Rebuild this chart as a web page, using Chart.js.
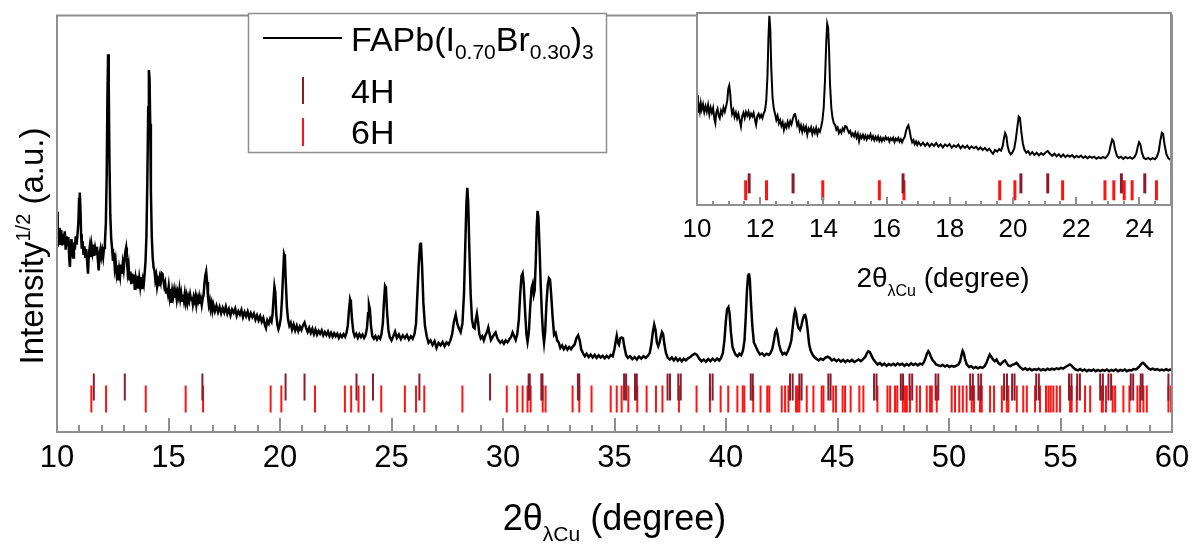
<!DOCTYPE html>
<html>
<head>
<meta charset="utf-8">
<script src="https://cdn.jsdelivr.net/npm/chart.js@4.4.0/dist/chart.umd.min.js"></script>
<style>
  html, body { margin: 0; padding: 0; background: #fff; }
  #wrap { position: relative; width: 1195px; height: 544px; }
  #main { position: absolute; left: 0; top: 0; }
  #inset { position: absolute; left: 680px; top: 0; }
</style>
</head>
<body>
<div id="wrap">
  <canvas id="main" width="1195" height="544"></canvas>
  <canvas id="inset" width="515" height="300"></canvas>
</div>
<script>
var pattern = [
  [10.00,52.9],[10.03,44.5],[10.06,48.0],[10.09,45.2],[10.12,49.0],[10.15,46.0],[10.19,48.5],[10.23,44.8],[10.27,47.6],[10.31,45.0],
  [10.35,48.2],[10.39,43.8],[10.43,47.0],[10.47,44.6],[10.51,46.8],[10.55,41.5],[10.58,39.6],[10.61,44.5],[10.65,46.3],[10.69,43.0],
  [10.72,41.9],[10.76,45.5],[10.80,43.8],[10.84,47.0],[10.88,45.0],[10.92,47.5],[10.96,50.5],[10.99,56.0],[11.02,57.5],[11.05,54.0],
  [11.08,47.5],[11.11,44.0],[11.15,45.8],[11.19,42.5],[11.23,44.6],[11.27,41.8],[11.31,43.9],[11.35,41.0],[11.39,38.0],[11.43,42.8],
  [11.47,44.5],[11.51,42.0],[11.55,44.8],[11.59,43.2],[11.63,45.0],[11.67,42.3],[11.71,44.1],[11.75,42.8],[11.79,44.5],[11.83,41.5],
  [11.87,38.8],[11.91,42.9],[11.95,44.0],[11.99,42.2],[12.03,43.5],[12.07,42.0],[12.11,44.2],[12.15,45.5],[12.19,50.0],[12.23,62.0],
  [12.26,80.0],[12.29,90.7],[12.32,84.0],[12.35,66.0],[12.39,52.0],[12.43,46.5],[12.47,44.0],[12.51,41.1],[12.55,43.0],[12.59,39.5],
  [12.63,41.0],[12.67,38.3],[12.71,40.0],[12.75,36.4],[12.79,39.0],[12.83,37.5],[12.87,40.2],[12.91,38.0],[12.95,40.5],[12.99,39.0],
  [13.03,41.5],[13.07,43.5],[13.10,44.3],[13.13,42.0],[13.17,38.5],[13.21,40.0],[13.25,36.4],[13.29,38.5],[13.33,35.5],[13.37,38.0],
  [13.41,36.0],[13.45,37.8],[13.49,34.1],[13.53,37.0],[13.57,35.8],[13.61,37.5],[13.65,34.4],[13.69,36.8],[13.73,35.0],[13.77,37.2],
  [13.81,34.3],[13.85,36.5],[13.89,35.5],[13.93,38.0],[13.97,41.0],[14.01,47.0],[14.05,60.0],[14.09,78.0],[14.12,86.9],[14.15,85.0],
  [14.18,74.0],[14.21,58.0],[14.25,47.0],[14.29,42.0],[14.33,39.5],[14.37,38.8],[14.41,36.5],[14.45,37.5],[14.49,34.9],[14.53,36.2],
  [14.57,35.0],[14.61,37.0],[14.65,36.0],[14.69,38.2],[14.73,38.0],[14.77,36.3],[14.81,35.0],[14.85,35.8],[14.89,33.5],[14.93,34.6],
  [14.97,33.3],[15.01,35.0],[15.05,32.6],[15.09,34.4],[15.13,31.0],[15.17,33.8],[15.21,32.5],[15.25,34.0],[15.29,32.2],[15.33,33.6],
  [15.37,31.8],[15.41,33.5],[15.45,32.5],[15.49,34.2],[15.53,32.0],[15.57,33.3],[15.61,31.5],[15.65,33.0],[15.69,31.6],[15.73,33.2],
  [15.77,31.2],[15.81,32.6],[15.85,31.0],[15.89,32.4],[15.93,31.5],[15.97,33.0],[16.01,31.8],[16.05,32.5],[16.09,30.8],[16.13,32.4],
  [16.17,31.5],[16.21,32.6],[16.25,30.6],[16.29,32.2],[16.33,31.4],[16.37,32.5],[16.41,30.8],[16.45,31.9],[16.49,30.5],[16.53,32.0],
  [16.57,32.8],[16.61,35.5],[16.65,37.5],[16.69,38.5],[16.73,36.0],[16.77,32.5],[16.81,30.5],[16.85,31.5],[16.89,29.6],[16.93,30.8],
  [16.97,29.2],[17.01,30.6],[17.08,29.0],[17.15,30.3],[17.22,28.8],[17.29,30.0],[17.36,28.5],[17.43,29.8],[17.50,28.7],[17.57,30.1],
  [17.64,28.4],[17.71,29.5],[17.78,28.0],[17.85,29.4],[17.92,28.6],[17.99,29.6],[18.06,27.9],[18.13,29.0],[18.20,28.2],[18.27,29.3],
  [18.34,27.6],[18.41,28.8],[18.48,27.8],[18.55,28.9],[18.62,27.4],[18.69,28.5],[18.76,27.6],[18.83,28.4],[18.90,27.0],[18.97,28.0],
  [19.04,26.8],[19.11,27.8],[19.18,26.5],[19.25,27.4],[19.32,25.8],[19.37,25.0],[19.43,26.8],[19.50,26.0],[19.56,27.2],[19.62,26.5],
  [19.67,28.5],[19.71,32.0],[19.75,34.9],[19.79,33.5],[19.83,28.5],[19.88,25.8],[19.93,24.7],[19.98,25.6],[20.04,27.5],[20.09,32.0],
  [20.14,38.0],[20.18,42.7],[20.22,42.0],[20.26,36.0],[20.31,30.0],[20.36,27.0],[20.42,25.5],[20.48,26.2],[20.54,24.6],[20.61,25.8],
  [20.68,24.4],[20.75,25.5],[20.82,24.2],[20.89,25.3],[20.96,24.5],[21.03,25.6],[21.10,26.3],[21.17,25.0],[21.24,24.0],[21.31,25.0],
  [21.38,23.8],[21.45,24.8],[21.52,23.5],[21.59,24.6],[21.66,23.4],[21.73,24.3],[21.80,23.6],[21.87,24.4],[21.94,23.2],[22.01,24.0],
  [22.08,23.3],[22.15,24.1],[22.22,23.0],[22.29,23.8],[22.36,22.9],[22.43,23.7],[22.50,23.0],[22.57,23.6],[22.64,22.6],[22.71,23.4],
  [22.78,22.8],[22.85,23.5],[22.92,22.9],[22.98,23.8],[23.04,25.5],[23.09,29.0],[23.14,31.8],[23.18,31.0],[23.23,27.0],[23.29,24.0],
  [23.35,23.0],[23.42,23.6],[23.49,22.6],[23.56,23.5],[23.63,22.8],[23.70,23.4],[23.77,22.6],[23.84,23.3],[23.90,25.0],[23.95,28.5],
  [23.99,30.5],[24.03,29.5],[24.08,25.5],[24.14,23.0],[24.21,22.4],[24.28,23.0],[24.35,22.2],[24.42,22.9],[24.49,22.4],[24.55,23.5],
  [24.61,26.0],[24.66,31.0],[24.71,35.0],[24.75,34.5],[24.80,29.0],[24.86,24.5],[24.92,22.8],[25.00,22.0],[25.08,23.0],[25.16,24.1],
  [25.24,22.6],[25.33,23.4],[25.42,22.3],[25.51,23.2],[25.60,22.5],[25.69,23.3],[25.78,22.2],[25.87,23.0],[25.95,22.4],[26.03,23.5],
  [26.10,26.0],[26.16,33.0],[26.22,40.0],[26.28,45.0],[26.32,45.5],[26.37,40.0],[26.43,31.0],[26.50,25.5],[26.58,23.0],[26.66,21.4],
  [26.75,22.0],[26.84,20.9],[26.93,21.8],[27.02,20.2],[27.11,21.4],[27.20,20.8],[27.29,21.6],[27.38,20.6],[27.47,21.5],[27.56,21.0],
  [27.64,22.0],[27.72,23.5],[27.80,26.5],[27.88,28.2],[27.95,26.0],[28.02,24.9],[28.10,24.0],[28.18,26.0],[28.25,33.0],[28.31,45.0],
  [28.36,55.0],[28.40,58.6],[28.44,55.0],[28.49,44.0],[28.55,33.0],[28.61,27.0],[28.67,25.2],[28.73,24.9],[28.78,27.0],[28.83,28.4],
  [28.88,26.5],[28.94,23.5],[29.00,22.5],[29.07,23.0],[29.14,22.0],[29.21,23.2],[29.28,24.0],[29.34,25.1],[29.40,23.5],[29.46,22.1],
  [29.53,22.8],[29.60,23.4],[29.67,23.9],[29.74,22.6],[29.81,21.9],[29.88,21.4],[29.96,21.9],[30.04,21.2],[30.12,22.0],[30.20,21.5],
  [30.28,22.2],[30.36,22.8],[30.43,23.9],[30.50,23.0],[30.57,22.1],[30.64,23.5],[30.71,27.0],[30.77,33.0],[30.83,37.5],[30.88,38.1],
  [30.93,35.5],[30.99,29.0],[31.05,23.5],[31.10,21.7],[31.16,24.0],[31.22,30.0],[31.28,34.5],[31.33,35.5],[31.38,33.0],[31.42,34.0],
  [31.47,41.0],[31.51,49.0],[31.55,53.1],[31.59,51.5],[31.64,44.0],[31.69,35.5],[31.74,28.8],[31.79,24.0],[31.84,21.4],[31.89,24.0],
  [31.95,31.0],[32.01,35.5],[32.06,36.9],[32.11,36.5],[32.16,33.0],[32.22,28.0],[32.29,23.3],[32.36,23.8],[32.43,22.0],[32.50,21.5],
  [32.57,20.2],[32.65,20.8],[32.73,19.9],[32.81,20.6],[32.89,19.8],[32.97,20.4],[33.05,19.9],[33.13,20.5],[33.21,21.0],[33.29,22.5],
  [33.37,23.2],[33.44,22.0],[33.51,19.8],[33.59,18.9],[33.67,18.2],[33.75,18.8],[33.84,18.0],[33.93,18.6],[34.02,17.9],[34.11,18.5],
  [34.20,17.8],[34.29,18.4],[34.38,17.9],[34.47,18.3],[34.56,17.7],[34.65,18.3],[34.74,17.8],[34.83,18.5],[34.92,18.2],[35.00,20.0],
  [35.06,22.0],[35.10,23.1],[35.15,21.5],[35.20,21.0],[35.26,22.5],[35.32,22.7],[35.38,22.5],[35.44,20.5],[35.52,18.5],[35.60,17.8],
  [35.70,18.2],[35.80,17.5],[35.90,18.0],[36.00,17.4],[36.10,18.1],[36.20,17.6],[36.30,18.2],[36.40,17.8],[36.50,18.3],[36.58,19.0],
  [36.65,21.0],[36.72,24.0],[36.78,25.8],[36.84,24.5],[36.90,21.5],[36.96,20.6],[37.02,21.5],[37.08,23.0],[37.13,24.0],[37.18,23.5],
  [37.24,21.0],[37.31,18.9],[37.39,17.8],[37.48,17.4],[37.57,17.9],[37.66,17.2],[37.75,17.8],[37.84,17.1],[37.93,17.6],[38.02,17.0],
  [38.11,17.6],[38.20,17.2],[38.30,17.7],[38.40,18.0],[38.50,18.5],[38.60,18.8],[38.70,18.5],[38.80,17.6],[38.90,17.0],[39.00,17.4],
  [39.10,16.9],[39.20,17.5],[39.30,17.0],[39.40,17.6],[39.50,17.1],[39.60,17.6],[39.70,17.2],[39.78,17.8],[39.86,19.0],[39.93,22.0],
  [39.99,26.5],[40.05,29.5],[40.11,30.0],[40.16,28.5],[40.22,24.0],[40.29,20.5],[40.36,19.4],[40.44,18.5],[40.52,18.2],[40.60,18.8],
  [40.68,18.4],[40.76,19.5],[40.83,22.0],[40.89,28.0],[40.94,34.0],[40.99,37.5],[41.03,38.1],[41.07,36.5],[41.12,31.0],[41.18,25.5],
  [41.25,21.5],[41.33,20.6],[41.42,19.5],[41.52,18.6],[41.62,18.9],[41.72,18.3],[41.82,18.8],[41.92,18.5],[42.00,19.0],[42.08,20.0],
  [42.15,22.0],[42.21,24.0],[42.26,24.5],[42.31,23.5],[42.38,21.0],[42.46,19.5],[42.54,18.6],[42.62,19.0],[42.70,18.6],[42.78,19.5],
  [42.86,20.6],[42.93,22.0],[42.99,25.0],[43.05,28.0],[43.10,29.2],[43.14,28.5],[43.20,26.0],[43.26,24.9],[43.32,24.5],[43.38,25.5],
  [43.44,27.0],[43.50,28.0],[43.55,28.1],[43.60,27.0],[43.66,24.5],[43.73,21.0],[43.80,19.5],[43.88,18.6],[43.96,18.0],[44.05,17.6],
  [44.15,17.2],[44.25,17.6],[44.35,17.3],[44.45,17.8],[44.55,18.1],[44.65,17.8],[44.75,17.2],[44.85,17.5],[44.95,17.0],[45.05,17.4],
  [45.15,16.9],[45.25,17.3],[45.35,16.8],[45.45,17.2],[45.55,16.9],[45.65,17.3],[45.75,16.8],[45.85,17.1],[45.95,17.4],[46.05,17.0],
  [46.15,17.5],[46.24,18.0],[46.31,18.8],[46.38,19.4],[46.45,19.2],[46.52,18.4],[46.60,17.5],[46.70,16.8],[46.80,16.2],[46.90,16.6],
  [47.00,16.0],[47.10,16.4],[47.20,15.9],[47.30,16.3],[47.40,16.0],[47.50,16.4],[47.60,16.0],[47.70,16.5],[47.80,16.1],[47.90,16.4],
  [48.00,15.9],[48.10,16.3],[48.20,16.0],[48.30,16.5],[48.40,16.1],[48.50,16.4],[48.60,16.0],[48.70,16.4],[48.80,16.2],[48.88,16.8],
  [48.95,17.8],[49.01,18.8],[49.07,19.4],[49.12,19.0],[49.18,18.2],[49.26,17.3],[49.34,16.8],[49.42,16.2],[49.52,16.0],[49.62,15.8],
  [49.72,16.1],[49.82,15.7],[49.92,16.0],[50.02,15.6],[50.12,15.9],[50.22,15.7],[50.32,15.9],[50.42,16.2],[50.50,17.0],[50.56,18.5],
  [50.61,19.5],[50.66,19.0],[50.72,17.5],[50.80,16.2],[50.90,15.6],[51.00,15.8],[51.10,15.3],[51.20,15.6],[51.30,15.3],[51.40,15.6],
  [51.50,15.4],[51.60,15.8],[51.68,16.6],[51.76,17.8],[51.83,18.6],[51.90,18.0],[51.97,17.4],[52.05,17.0],[52.13,17.4],[52.21,16.6],
  [52.30,16.2],[52.38,16.6],[52.45,17.0],[52.51,17.2],[52.58,16.6],[52.66,16.0],[52.75,15.8],[52.84,16.1],[52.93,16.3],[53.03,16.6],
  [53.12,16.0],[53.22,15.4],[53.32,15.0],[53.42,15.3],[53.52,14.9],[53.62,15.2],[53.72,14.8],[53.82,15.1],[53.92,14.9],[54.02,15.2],
  [54.12,14.8],[54.22,15.1],[54.32,14.8],[54.42,15.2],[54.52,14.9],[54.62,15.2],[54.72,15.0],[54.82,15.3],[54.92,15.1],[55.02,15.4],
  [55.12,15.2],[55.22,15.6],[55.32,15.9],[55.42,16.2],[55.50,15.9],[55.58,15.4],[55.68,15.0],[55.78,14.8],[55.88,15.1],[55.98,14.7],
  [56.08,15.0],[56.18,14.6],[56.28,14.9],[56.38,14.7],[56.48,15.0],[56.58,14.6],[56.68,14.9],[56.78,14.6],[56.88,14.9],[56.98,14.7],
  [57.08,15.0],[57.18,14.6],[57.28,14.9],[57.38,14.7],[57.48,15.0],[57.58,14.6],[57.68,14.9],[57.78,14.7],[57.88,15.0],[57.98,14.6],
  [58.08,14.9],[58.18,14.8],[58.28,15.1],[58.38,15.0],[58.48,15.4],[58.56,15.9],[58.63,16.4],[58.70,16.6],[58.77,16.3],[58.85,15.8],
  [58.94,15.3],[59.04,15.0],[59.14,15.2],[59.24,14.9],[59.34,15.1],[59.44,14.8],[59.54,15.0],[59.64,14.8],[59.74,15.1],[59.84,14.8],
  [59.92,15.0],[60.00,14.9]
];

/* reference reflections (2theta) */
var refs4H = [11.65, 13.04, 16.52, 20.25, 21.10, 23.43, 24.17, 26.25, 29.42, 31.15, 31.20, 31.72, 31.77,
  33.36, 33.42, 35.43, 35.52, 35.92, 36.00, 37.38, 37.49, 37.86, 37.97, 39.28, 39.40, 41.11, 41.20,
  42.87, 42.99, 43.29, 43.39, 44.59, 44.69, 46.64, 46.75, 47.84, 47.94, 48.23, 48.35, 49.40, 49.52,
  50.95, 51.07, 51.32, 51.44, 52.47, 52.60, 52.83, 52.94, 53.91, 54.03, 55.38, 55.49, 55.75, 55.87,
  56.78, 56.90, 57.15, 57.27, 58.15, 58.26, 58.60, 58.68, 59.84];
var refs6H = [11.54, 12.20, 13.98, 15.77, 16.55, 19.58, 20.06, 21.57, 22.91, 23.19, 23.52, 23.77, 24.54,
  25.60, 26.10, 26.47, 28.18, 30.17, 30.64, 30.88, 31.10, 31.24, 31.78, 31.91, 33.12, 33.42, 33.97,
  34.83, 35.10, 35.32, 35.62, 36.02, 36.44, 36.86, 37.15, 37.89, 38.68, 39.28, 39.76, 40.10, 40.51,
  40.75, 40.82, 41.22, 41.55, 41.85, 41.94, 42.50, 42.65, 42.80, 43.14, 43.21, 43.29, 43.62, 43.92,
  44.29, 44.37, 44.81, 44.93, 45.23, 45.34, 45.59, 45.98, 46.16, 46.79, 47.24, 47.36, 47.58, 47.68,
  47.93, 48.03, 48.11, 48.25, 48.55, 48.70, 49.00, 49.15, 49.23, 49.45, 50.12, 50.27, 50.46, 50.62,
  50.79, 51.02, 51.12, 51.39, 51.47, 51.84, 52.02, 52.37, 52.59, 52.66, 53.04, 53.33, 53.49, 53.86,
  54.08, 54.35, 54.46, 54.56, 54.68, 54.83, 54.98, 55.43, 55.50, 55.73, 56.10, 56.33, 56.85, 56.90,
  57.04, 57.34, 57.45, 57.82, 58.09, 58.45, 58.57, 58.72, 58.87, 59.84, 59.96];

var mainTicks = [10, 15, 20, 25, 30, 35, 40, 45, 50, 55, 60];
var insetTicks = [10, 12, 14, 16, 18, 20, 22, 24];

var FONT = '"Liberation Sans", Arial, sans-serif';
var GREY = '#8f8f8f';
var C4H = '#8b1c2c';
var C6H = '#ff1414';

// draw a run of text pieces (normal / sub / superscript) on the canvas
function richText(ctx, parts, x, y, align) {
    var w = 0;
    parts.forEach(function (p) {
        ctx.font = p[1] + 'px ' + FONT;
        w += ctx.measureText(p[0]).width;
    });
    var cx = align === 'center' ? x - w / 2 : x;
    ctx.textAlign = 'left';
    ctx.textBaseline = 'alphabetic';
    parts.forEach(function (p) {
        ctx.font = p[1] + 'px ' + FONT;
        ctx.fillText(p[0], cx, y + (p[2] || 0));
        cx += ctx.measureText(p[0]).width;
    });
}

function curveData(lo, hi) {
    return pattern.filter(function (p) { return p[0] >= lo && p[0] <= hi; })
        .map(function (p) { return {x: p[0], y: p[1]}; });
}

function refData(list, level, hi) {
    return list.filter(function (v) { return v <= hi; })
        .map(function (v) { return {x: v, y: level}; });
}

function refSet(list, level, hi, color, r, w) {
    return {
        data: refData(list, level, hi),
        showLine: false,
        pointStyle: 'line',
        rotation: 90,
        pointRadius: r,
        pointBorderWidth: w,
        pointBorderColor: color,
        pointBackgroundColor: color
    };
}

var mainDeco = {
    id: 'mainDeco',
    afterDraw: function (chart) {
        var ctx = chart.ctx, a = chart.chartArea, x = chart.scales.x;
        ctx.save();
        ctx.strokeStyle = GREY;
        ctx.lineWidth = 2;
        ctx.strokeRect(a.left, a.top, a.right - a.left, a.bottom - a.top);
        for (var v = x.min; v <= x.max; v++) {
            var px = Math.round(x.getPixelForValue(v));
            var len = v % 5 === 0 ? 14 : 7;
            ctx.beginPath();
            ctx.moveTo(px, a.bottom);
            ctx.lineTo(px, a.bottom - len);
            ctx.stroke();
        }
        ctx.fillStyle = '#000';
        richText(ctx, [['2θ', 36], ['λCu', 21, 11], [' (degree)', 36]], (a.left + a.right) / 2, 530, 'center');

        ctx.save();
        ctx.translate(43, 246);
        ctx.rotate(-Math.PI / 2);
        richText(ctx, [['Intensity', 33], ['1/2', 20, -13], [' (a.u.)', 33]], 0, 0, 'center');
        ctx.restore();

        // legend
        ctx.fillStyle = '#fff';
        ctx.fillRect(248, 13, 358, 139);
        ctx.strokeStyle = GREY;
        ctx.lineWidth = 1.5;
        ctx.strokeRect(248.5, 13.5, 358, 139);
        ctx.strokeStyle = '#000';
        ctx.lineWidth = 2;
        ctx.beginPath();
        ctx.moveTo(263, 38);
        ctx.lineTo(342, 38);
        ctx.stroke();
        ctx.strokeStyle = C4H;
        ctx.beginPath();
        ctx.moveTo(303, 77);
        ctx.lineTo(303, 104);
        ctx.stroke();
        ctx.strokeStyle = C6H;
        ctx.beginPath();
        ctx.moveTo(303, 118);
        ctx.lineTo(303, 146);
        ctx.stroke();
        ctx.fillStyle = '#000';
        richText(ctx, [['FAPb(I', 34], ['0.70', 21, 8], ['Br', 34], ['0.30', 21, 8], [')', 34], ['3', 21, 8]], 351, 51, 'left');
        richText(ctx, [['4H', 34]], 351, 103, 'left');
        richText(ctx, [['6H', 34]], 351, 144, 'left');
        ctx.restore();
    }
};

var insetDeco = {
    id: 'insetDeco',
    beforeDraw: function (chart) {
        var ctx = chart.ctx, a = chart.chartArea;
        ctx.save();
        ctx.fillStyle = '#fff';
        ctx.fillRect(a.left, a.top, a.right - a.left, a.bottom - a.top);
        ctx.restore();
    },
    afterDraw: function (chart) {
        var ctx = chart.ctx, a = chart.chartArea, x = chart.scales.x;
        ctx.save();
        ctx.strokeStyle = GREY;
        ctx.lineWidth = 2;
        ctx.strokeRect(a.left, a.top, a.right - a.left, a.bottom - a.top);
        for (var v = x.min; v <= x.max; v += 0.5) {
            var px = Math.round(x.getPixelForValue(v));
            var len = v % 2 === 0 ? 8 : 4;
            ctx.beginPath();
            ctx.moveTo(px, a.bottom);
            ctx.lineTo(px, a.bottom - len);
            ctx.stroke();
        }
        ctx.fillStyle = '#000';
        richText(ctx, [['2θ', 28], ['λCu', 16, 9], [' (degree)', 28]], 263, 287, 'center');
        ctx.restore();
    }
};

// labels sit half a line height below the axis; padding 0 keeps the plot edges fixed
function xScale(min, max, ticks, fontSize, lineHeight, height) {
    return {
        type: 'linear',
        min: min,
        max: max,
        grid: {display: false, drawTicks: false},
        border: {display: false},
        afterBuildTicks: function (s) {
            s.ticks = ticks.map(function (v) { return {value: v}; });
        },
        afterFit: function (s) { s.height = height; },
        ticks: {color: '#000', padding: 0, maxRotation: 0,
            font: {family: FONT, size: fontSize, lineHeight: lineHeight}}
    };
}

new Chart(document.getElementById('main'), {
    type: 'scatter',
    data: {
        datasets: [
            refSet(refs4H, 10.8, 60, C4H, 13.5, 2),
            refSet(refs6H, 7.9, 60, C6H, 13.5, 2),
            {data: curveData(10, 60), showLine: true, borderColor: '#000', borderWidth: 2.5, pointRadius: 0, tension: 0}
        ]
    },
    options: {
        responsive: false,
        animation: false,
        devicePixelRatio: 1,
        events: [],
        layout: {padding: {left: 57, right: 23, top: 9, bottom: 0}},
        plugins: {legend: {display: false}, tooltip: {enabled: false}},
        scales: {
            x: xScale(10, 60, mainTicks, 31, 1.71, 112),
            y: {display: false, min: 0, max: 100}
        }
    },
    plugins: [mainDeco]
});

new Chart(document.getElementById('inset'), {
    type: 'scatter',
    data: {
        datasets: [
            refSet(refs4H, 10.9, 25, C4H, 10, 3),
            refSet(refs6H, 7.6, 25, C6H, 10, 3),
            {data: curveData(10, 25.1), showLine: true, borderColor: '#000', borderWidth: 2, pointRadius: 0, tension: 0}
        ]
    },
    options: {
        responsive: false,
        animation: false,
        devicePixelRatio: 1,
        events: [],
        layout: {padding: {left: 17, right: 24, top: 10, bottom: 0}},
        plugins: {legend: {display: false}, tooltip: {enabled: false}},
        scales: {
            x: xScale(10, 25, insetTicks, 26, 1.9, 95),
            y: {display: false, min: 0.6, max: 92}
        }
    },
    plugins: [insetDeco]
});
</script>
</body>
</html>
